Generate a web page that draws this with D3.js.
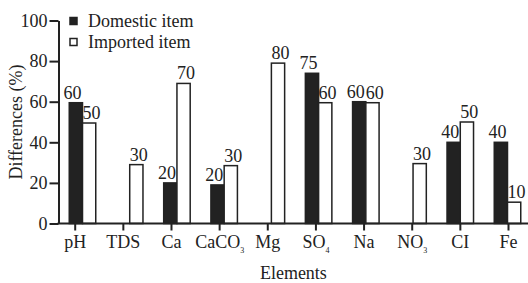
<!DOCTYPE html>
<html>
<head>
<meta charset="utf-8">
<script src="https://cdn.jsdelivr.net/npm/d3@7"></script>
<style>
  body { margin: 0; background: #fff; }
  svg, svg text { font-family: 'Liberation Serif', 'DejaVu Serif', serif !important; fill: #222; }
</style>
</head>
<body>
<div id="chart"></div>
<script>
// categories + subscripts for the chemical names
const elements = ['pH', 'TDS', 'Ca', 'CaCO3', 'Mg', 'SO4', 'Na', 'NO3', 'CI', 'Fe']
const elementBase = ['pH', 'TDS', 'Ca', 'CaCO', 'Mg', 'SO', 'Na', 'NO', 'CI', 'Fe']
const elementSub = ['', '', '', '3', '', '4', '', '3', '', '']

// bar heights (0 = no bar)
const domestic = [59.5, 0, 20, 19, 0, 74, 60, 0, 40, 40]
const imported = [49.5, 29, 69, 28.5, 79, 59.5, 59.5, 29.5, 50, 10.5]

// printed labels above the bars
const domesticLabels = ['60', '', '20', '20', '', '75', '60', '', '40', '40']
const importedLabels = ['50', '30', '70', '30', '80', '60', '60', '30', '50', '10']

const series = ['Domestic item', 'Imported item']
const yTicks = [0, 20, 40, 60, 80, 100]

const W = 528, H = 283
const FS = '18px'

const svg = d3.select('#chart').append('svg')
  .attr('width', W)
  .attr('height', H)
  .style('font-family', "'Liberation Serif', 'DejaVu Serif', serif")

const y = d3.scaleLinear()
  .domain([0, 100])
  .range([223.5, 20.5])

// group centre (where the two bars meet)
const xg = d3.scalePoint()
  .domain(elements)
  .range([82.5, 507.5])

const xs = d3.scaleBand()
  .domain(series)
  .range([-14, 14])

// tick positions of the category axis (slightly off the bars in the original)
const xTick = d3.scalePoint()
  .domain(elements)
  .range([74.7, 508])

const rows = elements.map((e, i) => ({
  el: e,
  vals: [
    { s: series[0], v: domestic[i], lab: domesticLabels[i] },
    { s: series[1], v: imported[i], lab: importedLabels[i] }
  ]
}))

const groups = svg.selectAll('g.grp')
  .data(rows)
  .enter()
  .append('g')
  .attr('class', 'grp')
  .attr('transform', d => `translate(${xg(d.el)},0)`)

groups.selectAll('rect')
  .data(d => d.vals.filter(v => v.v > 0))
  .enter()
  .append('rect')
  .attr('x', d => xs(d.s) + (d.s === series[0] ? 0.75 : 0))
  .attr('y', d => y(d.v))
  .attr('width', d => xs.bandwidth() - 0.75)
  .attr('height', d => y(0) - y(d.v))
  .attr('fill', d => d.s === series[0] ? '#222' : '#fff')
  .attr('stroke', '#222')
  .attr('stroke-width', 1.5)

groups.selectAll('text.val')
  .data(d => d.vals.filter(v => v.lab !== ''))
  .enter()
  .append('text')
  .attr('class', 'val')
  .attr('x', d => xs(d.s) + xs.bandwidth() / 2 + (d.s === series[0] ? -3 : 2))
  .attr('y', d => y(d.v) - 4)
  .attr('text-anchor', 'middle')
  .style('font-size', FS)
  .text(d => d.lab)

// y axis
const yAxis = svg.append('g')
  .attr('transform', 'translate(58.5,0)')
  .call(d3.axisLeft(y).tickValues(yTicks).tickSize(9).tickSizeOuter(0).tickPadding(2))
yAxis.attr('font-family', null)
yAxis.select('.domain').attr('stroke', '#222').attr('stroke-width', 2)
yAxis.selectAll('.tick line').attr('stroke', '#222').attr('stroke-width', 2)
yAxis.selectAll('.tick text').style('font-size', FS).attr('fill', '#222')

// x axis
const xAxis = svg.append('g')
  .attr('transform', `translate(0,${y(0)})`)
  .call(d3.axisBottom(xTick).tickSize(7).tickSizeOuter(0).tickPadding(5).tickFormat(''))
xAxis.attr('font-family', null)
xAxis.select('.domain').remove()
xAxis.append('line')
  .attr('x1', 57.5)
  .attr('x2', W)
  .attr('stroke', '#222')
  .attr('stroke-width', 2)
xAxis.selectAll('.tick line').attr('stroke', '#222').attr('stroke-width', 2)

const tl = xAxis.selectAll('.tick').append('text')
  .attr('y', 24)
  .attr('text-anchor', 'middle')
  .style('font-size', FS)
  .attr('fill', '#222')
tl.append('tspan').text(d => elementBase[elements.indexOf(d)])
tl.append('tspan')
  .attr('dy', 5)
  .style('font-size', '8px')
  .text(d => elementSub[elements.indexOf(d)])

// axis titles
svg.append('text')
  .attr('x', xg('Mg') + 22)
  .attr('y', 279)
  .attr('text-anchor', 'middle')
  .style('font-size', FS)
  .text('Elements')

svg.append('text')
  .attr('transform', `translate(22,${y(50)}) rotate(-90)`)
  .attr('text-anchor', 'middle')
  .style('font-size', FS)
  .text('Differences (%)')

// legend
const leg = svg.selectAll('g.leg')
  .data(series)
  .enter()
  .append('g')
  .attr('class', 'leg')
  .attr('transform', (d, i) => `translate(70,${17.5 + i * 21})`)
leg.append('rect')
  .attr('width', 7)
  .attr('height', 7)
  .attr('fill', (d, i) => i === 0 ? '#222' : '#fff')
  .attr('stroke', '#222')
  .attr('stroke-width', 1.5)
leg.append('text')
  .attr('x', 18)
  .attr('y', 9.5)
  .style('font-size', FS)
  .text(d => d)
</script>
</body>
</html>
